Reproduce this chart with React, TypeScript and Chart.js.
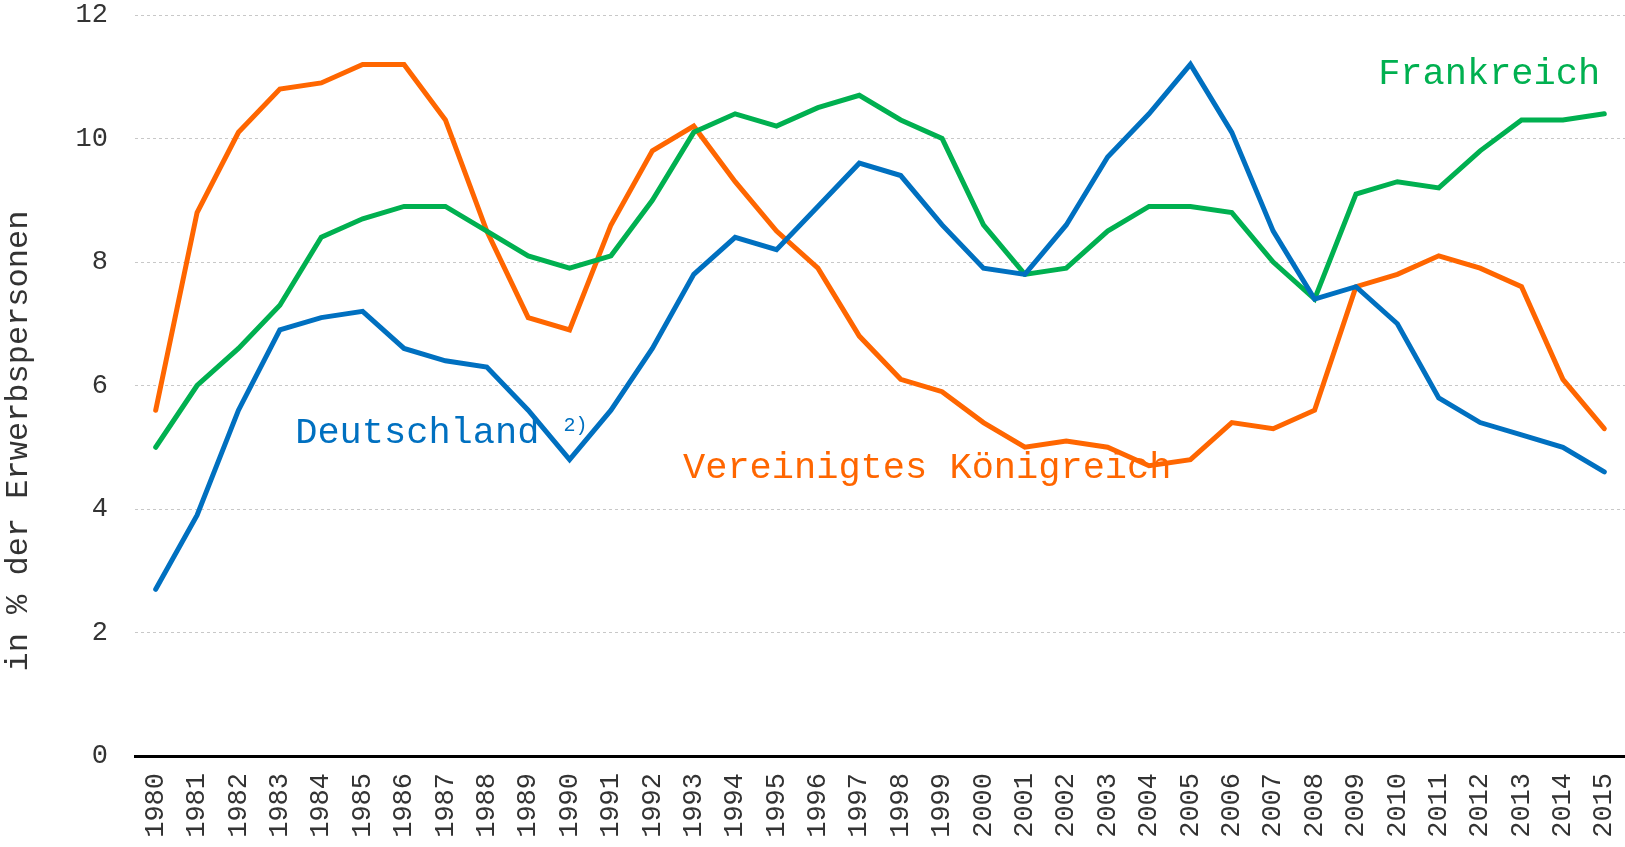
import React, { useEffect, useRef } from "react";
import { Chart, registerables } from "chart.js";

Chart.register(...registerables);

const years = [
  "1980", "1981", "1982", "1983", "1984", "1985", "1986", "1987", "1988", "1989",
  "1990", "1991", "1992", "1993", "1994", "1995", "1996", "1997", "1998", "1999",
  "2000", "2001", "2002", "2003", "2004", "2005", "2006", "2007", "2008", "2009",
  "2010", "2011", "2012", "2013", "2014", "2015",
];

const deutschland = [
  2.7, 3.9, 5.6, 6.9, 7.1, 7.2, 6.6, 6.4, 6.3, 5.6,
  4.8, 5.6, 6.6, 7.8, 8.4, 8.2, 8.9, 9.6, 9.4, 8.6,
  7.9, 7.8, 8.6, 9.7, 10.4, 11.2, 10.1, 8.5, 7.4, 7.6,
  7.0, 5.8, 5.4, 5.2, 5.0, 4.6,
];

const frankreich = [
  5.0, 6.0, 6.6, 7.3, 8.4, 8.7, 8.9, 8.9, 8.5, 8.1,
  7.9, 8.1, 9.0, 10.1, 10.4, 10.2, 10.5, 10.7, 10.3, 10.0,
  8.6, 7.8, 7.9, 8.5, 8.9, 8.9, 8.8, 8.0, 7.4, 9.1,
  9.3, 9.2, 9.8, 10.3, 10.3, 10.4,
];

const koenigreich = [
  5.6, 8.8, 10.1, 10.8, 10.9, 11.2, 11.2, 10.3, 8.5, 7.1,
  6.9, 8.6, 9.8, 10.2, 9.3, 8.5, 7.9, 6.8, 6.1, 5.9,
  5.4, 5.0, 5.1, 5.0, 4.7, 4.8, 5.4, 5.3, 5.6, 7.6,
  7.8, 8.1, 7.9, 7.6, 6.1, 5.3,
];

const yTicks = [0, 2, 4, 6, 8, 10, 12];
const yTitle = "in % der Erwerbspersonen";

const BLUE = "#0070C0";
const GREEN = "#00B050";
const ORANGE = "#FF6600";
const FONT = "'Liberation Mono', 'Courier New', monospace";

// annotation labels: text, x position (category index), y value, alignment, colour
const labels: { text: string; xi: number; yv: number; align: CanvasTextAlign; color: string; sup?: string }[] = [
  { text: "Frankreich", xi: 34.9, yv: 10.88, align: "right", color: GREEN },
  { text: "Deutschland", xi: 3.37, yv: 5.07, align: "left", color: BLUE, sup: "2)" },
  { text: "Vereinigtes Königreich", xi: 12.74, yv: 4.5, align: "left", color: ORANGE },
];

const labelPlugin = {
  id: "seriesLabels",
  beforeDatasetsDraw(chart: any) {
    const ctx = chart.ctx;
    const xs = chart.scales.x;
    const ys = chart.scales.y;
    const step = xs.getPixelForValue(1) - xs.getPixelForValue(0);
    ctx.save();
    labels.forEach((l) => {
      const x = xs.getPixelForValue(0) + l.xi * step;
      const y = ys.getPixelForValue(l.yv);
      ctx.font = `37px ${FONT}`;
      ctx.fillStyle = l.color;
      ctx.textAlign = l.align;
      ctx.textBaseline = "alphabetic";
      ctx.fillText(l.text, x, y);
      if (l.sup) {
        const w = ctx.measureText(l.text + " ").width;
        ctx.font = `20px ${FONT}`;
        ctx.textAlign = "left";
        ctx.fillText(l.sup, x + w + 2, y - 12);
      }
    });
    // rotated axis title, placed lower than centre as in the reference
    const cy = ys.getPixelForValue(5.1);
    ctx.translate(19, cy);
    ctx.rotate(-Math.PI / 2);
    ctx.font = `32px ${FONT}`;
    ctx.fillStyle = "#333";
    ctx.textAlign = "center";
    ctx.textBaseline = "middle";
    ctx.fillText(yTitle, 0, 0);
    ctx.restore();
  },
};

export default function App() {
  const ref = useRef<HTMLCanvasElement | null>(null);

  useEffect(() => {
    if (!ref.current) return;
    const chart = new Chart(ref.current, {
      type: "line",
      data: {
        labels: years,
        datasets: [
          { label: "Deutschland", data: deutschland, borderColor: BLUE, backgroundColor: BLUE },
          { label: "Frankreich", data: frankreich, borderColor: GREEN, backgroundColor: GREEN },
          { label: "Vereinigtes Königreich", data: koenigreich, borderColor: ORANGE, backgroundColor: ORANGE },
        ].map((d) => ({
          ...d,
          borderWidth: 5,
          pointRadius: 0,
          pointHoverRadius: 0,
          tension: 0,
          fill: false,
          borderCapStyle: "round" as const,
        })),
      },
      options: {
        responsive: false,
        animation: false,
        layout: { padding: { top: 15, right: 0, bottom: 0, left: 0 } },
        plugins: {
          legend: { display: false },
          tooltip: { enabled: false },
        },
        scales: {
          x: {
            offset: true,
            grid: { display: false, drawTicks: false },
            border: { display: true, color: "#000", width: 3 },
            ticks: {
              autoSkip: false,
              maxRotation: 90,
              minRotation: 90,
              padding: 17,
              color: "#333",
              font: { family: FONT, size: 27 },
            },
            afterFit: (s: any) => {
              s.height = 91;
              s.paddingLeft = 0;
              s.paddingRight = 0;
            },
          },
          y: {
            min: 0,
            max: 12,
            afterBuildTicks: (s: any) => {
              s.ticks = yTicks.map((v) => ({ value: v }));
            },
            grid: {
              drawTicks: false,
              color: (c: any) => (c.tick && c.tick.value === 0 ? "rgba(0,0,0,0)" : "#c8c8c8"),
              lineWidth: 1,
            },
            border: { display: false, dash: [3, 3] },
            ticks: {
              padding: 27,
              color: "#333",
              font: { family: FONT, size: 27 },
            },
            afterFit: (s: any) => {
              s.width = 135;
              s.paddingTop = 0;
              s.paddingBottom = 0;
            },
          },
        },
      },
      plugins: [labelPlugin],
    });
    return () => chart.destroy();
  }, []);

  return (
    <div style={{ position: "fixed", left: 0, top: 0, width: 1625, height: 847, background: "#fff" }}>
      <canvas ref={ref} width={1625} height={847} style={{ width: 1625, height: 847, display: "block" }} />
    </div>
  );
}
